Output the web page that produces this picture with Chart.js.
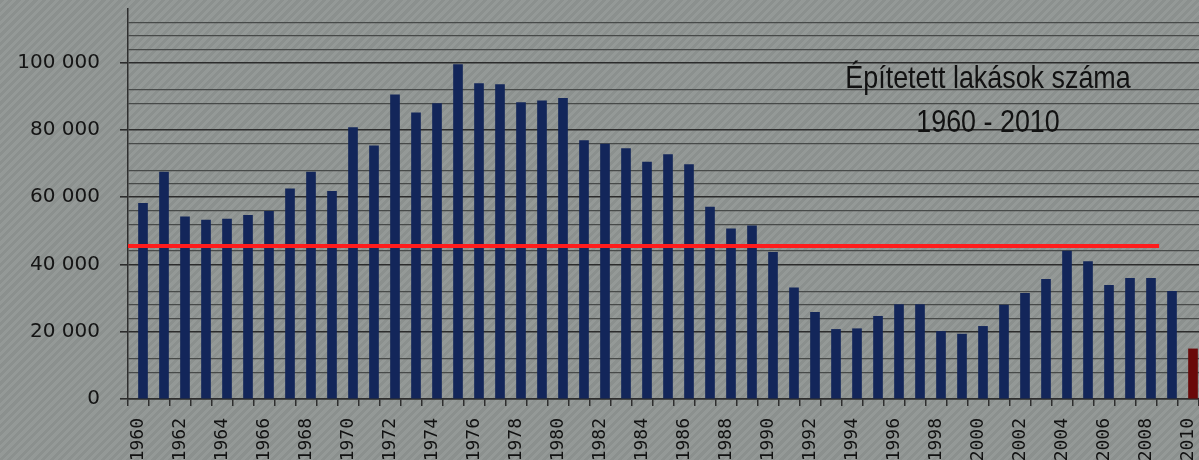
<!DOCTYPE html>
<html>
<head>
<meta charset="utf-8">
<script src="https://cdn.jsdelivr.net/npm/chart.js@4"></script>
<style>
  html, body { margin: 0; padding: 0; }
  body {
    width: 1199px; height: 460px; overflow: hidden; position: relative;
    background: repeating-linear-gradient(135deg, #8b908e 0px, #8b908e 3px, #949997 3px, #949997 6px);
  }
  #wrap { position: absolute; left: 0; top: 0; width: 1199px; height: 460px; }
  #cim {
    position: absolute; left: 788px; top: 55px; width: 400px;
    font-family: "Liberation Sans", Arial, sans-serif; font-size: 32px; line-height: 44px;
    color: #111; text-align: center; transform: scaleX(0.84); transform-origin: center;
  }
</style>
</head>
<body>
<div id="wrap"><canvas id="grafikon" width="1199" height="460"></canvas></div>
<div id="cim">Építetett lakások száma<br>1960 - 2010</div>
<script>
const evek = [1960, 1961, 1962, 1963, 1964, 1965, 1966, 1967, 1968, 1969,
              1970, 1971, 1972, 1973, 1974, 1975, 1976, 1977, 1978, 1979,
              1980, 1981, 1982, 1983, 1984, 1985, 1986, 1987, 1988, 1989,
              1990, 1991, 1992, 1993, 1994, 1995, 1996, 1997, 1998, 1999,
              2000, 2001, 2002, 2003, 2004, 2005, 2006, 2007, 2008, 2009, 2010];
const lakasok = [58200, 67500, 54200, 53200, 53500, 54600, 55800, 62500, 67500, 61800,
                 80700, 75300, 90500, 85100, 87900, 99500, 93800, 93500, 88200, 88700,
                 89400, 76900, 75800, 74500, 70500, 72700, 69700, 57100, 50600, 51500,
                 43600, 33100, 25800, 20700, 20900, 24600, 28100, 28100, 20100, 19300,
                 21600, 27900, 31400, 35600, 44000, 40900, 33800, 35900, 35900, 32000, 14900];
const atlag = 45500;          // piros vonal
const atlag_vege = 2008.6;    // meddig tart a vonal
const kiemelt_ev = 2010;      // sötétvörös oszlop
const hianyzo_racs = [4000, 16000, 36000, 48000, 72000, 84000, 96000, 116000]; // ezek a segédvonalak nem látszanak

const ezres = v => String(v).replace(/\B(?=(\d{3})+(?!\d))/g, ' ');

const ctx = document.getElementById('grafikon').getContext('2d');
const grafikon = new Chart(ctx, {
    type: 'bar',
    data: {
        labels: evek,
        datasets: [{
            type: 'line',
            xAxisID: 'xv',
            data: [{ x: evek[0] - 0.5, y: atlag }, { x: atlag_vege, y: atlag }],
            borderColor: '#ff1c1c',
            borderWidth: 4,
            pointRadius: 0,
            order: 0
        }, {
            data: lakasok,
            backgroundColor: c => evek[c.dataIndex] === kiemelt_ev ? '#6a0909' : '#13265a',
            borderWidth: 0,
            barThickness: 9,
            order: 1
        }]
    },
    options: {
        responsive: false,
        animation: false,
        layout: { padding: { top: 9, right: 0, left: 0, bottom: 0 } },
        plugins: {
            legend: { display: false },
            tooltip: { enabled: false }
        },
        scales: {
            x: {
                offset: true,
                grid: { display: true, drawOnChartArea: false, drawTicks: true, tickLength: 7, color: '#2e2e2e', lineWidth: 1.5 },
                border: { color: '#2e2e2e', width: 1.5 },
                ticks: {
                    autoSkip: false, minRotation: 90, maxRotation: 90, padding: 12,
                    color: '#111',
                    font: { family: "'DejaVu Sans Mono', monospace", size: 18 },
                    callback: (v, i) => evek[i] % 2 === 0 ? String(evek[i]) : ''
                },
                afterFit: s => { s.height = 61; s.paddingLeft = 0; s.paddingRight = 0; }
            },
            xv: {
                type: 'linear', display: false, offset: false,
                min: evek[0] - 0.5, max: evek[evek.length - 1] + 0.5
            },
            y: {
                min: 0, max: 116000,
                ticks: {
                    stepSize: 4000, autoSkip: false, maxTicksLimit: 100, padding: 20,
                    color: '#141414',
                    font: { family: "'DejaVu Sans', sans-serif", size: 20 },
                    callback: v => v % 20000 === 0 ? ezres(v) : ''
                },
                grid: {
                    tickLength: 8,
                    color: c => hianyzo_racs.includes(c.tick.value) ? 'rgba(0,0,0,0)' : (c.tick.value % 20000 === 0 ? '#2c2c2c' : '#474a49'),
                    lineWidth: c => c.tick.value % 20000 === 0 ? 1.6 : 1.2,
                    tickColor: c => c.tick.value % 20000 === 0 ? '#2c2c2c' : 'rgba(0,0,0,0)'
                },
                border: { color: '#2e2e2e', width: 1.5 },
                afterFit: s => { s.width = 128; s.paddingTop = 0; s.paddingBottom = 0; }
            }
        }
    }
});
</script>
</body>
</html>
